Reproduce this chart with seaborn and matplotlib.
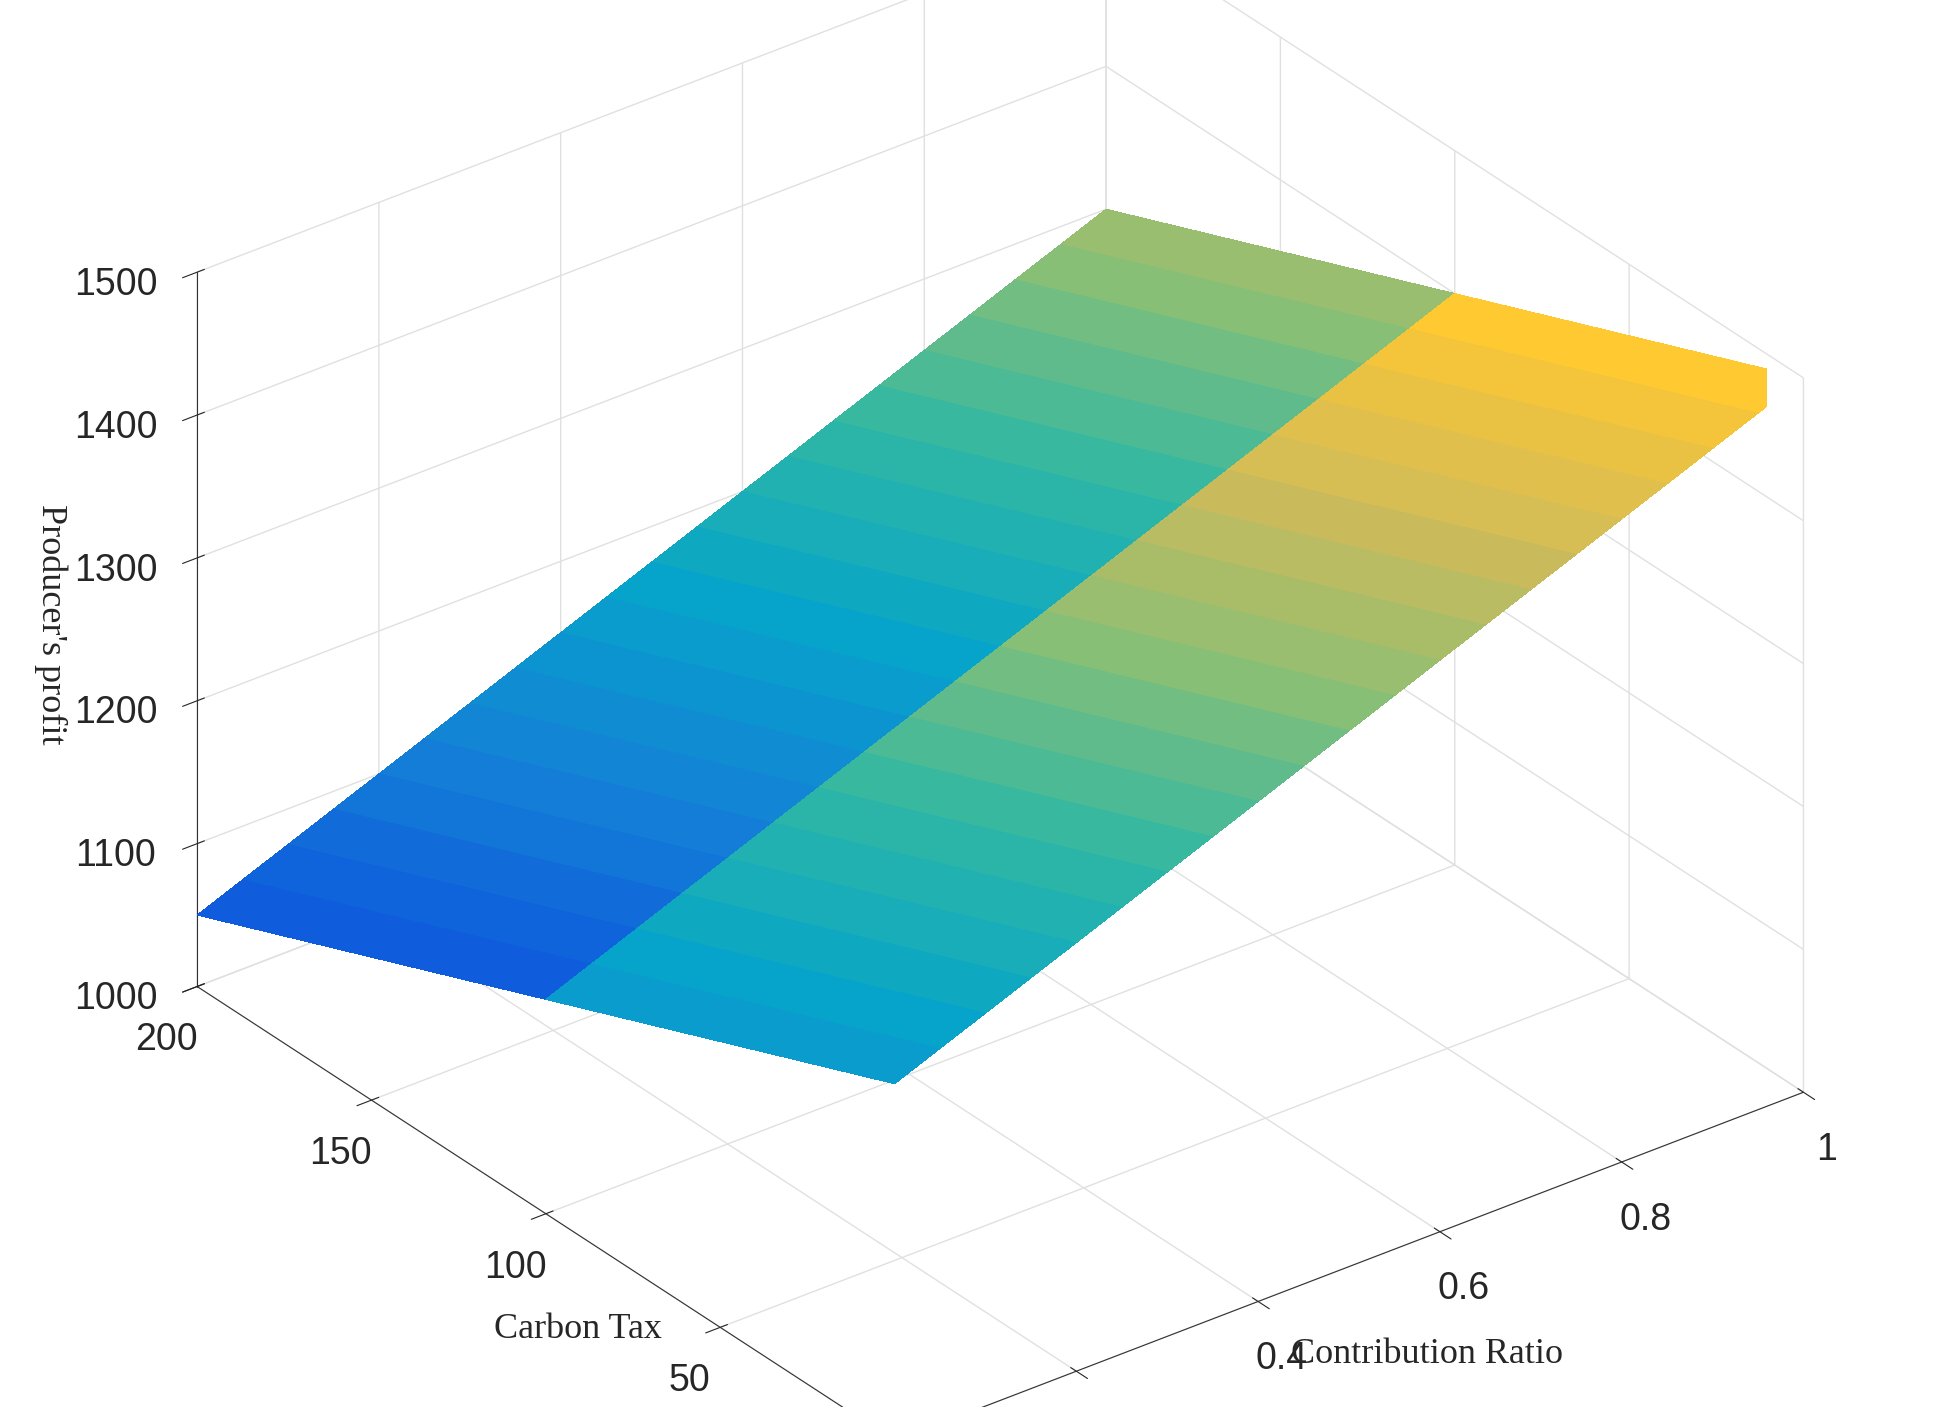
import numpy as np
import seaborn as sns
import matplotlib.pyplot as plt
from matplotlib.colors import LinearSegmentedColormap

sns.set_style('white')
plt.rcParams['font.family'] = ['Liberation Sans', 'DejaVu Sans']

# data
contribution_ratio = [0.0, 0.05, 0.1, 0.15, 0.2, 0.25, 0.3, 0.35, 0.4, 0.45, 0.5,
                      0.55, 0.6, 0.65, 0.7, 0.75, 0.8, 0.85, 0.9, 0.95, 1.0]
carbon_tax = [0, 100, 200]
profit_tax_0 = [1250, 1262.5, 1275, 1287.5, 1300, 1312.5, 1325, 1337.5, 1350, 1362.5, 1375,
                1387.5, 1400, 1412.5, 1425, 1437.5, 1450, 1462.5, 1475, 1487.5, 1500]
profit_tax_100 = [1150, 1162.5, 1175, 1187.5, 1200, 1212.5, 1225, 1237.5, 1250, 1262.5, 1275,
                  1287.5, 1300, 1312.5, 1325, 1337.5, 1350, 1362.5, 1375, 1387.5, 1400]
profit_tax_200 = [1050, 1062.5, 1075, 1087.5, 1100, 1112.5, 1125, 1137.5, 1150, 1162.5, 1175,
                  1187.5, 1200, 1212.5, 1225, 1237.5, 1250, 1262.5, 1275, 1287.5, 1300]

parula = LinearSegmentedColormap.from_list('parula', [
    '#352A87', '#0F5CDD', '#1481D6', '#06A4CA', '#2EB7A4',
    '#87BF77', '#D1BB59', '#FEC832', '#F9FB0E'])

X, Y = np.meshgrid(contribution_ratio, carbon_tax)
Z = np.array([profit_tax_0, profit_tax_100, profit_tax_200], dtype=float)

fig = plt.figure(figsize=(19.58, 14.07), dpi=100)
ax = fig.add_axes([-0.02, -0.06, 1.04, 1.12], projection='3d')
ax.set_proj_type('ortho')
ax.plot_surface(X, Y, Z, cmap=parula, vmin=Z.min(), vmax=Z.max(),
                linewidth=0, antialiased=False, shade=False,
                rcount=3, ccount=21)

ax.set_xlim(0, 1)
ax.set_ylim(0, 200)
ax.set_zlim(1000, 1500)
ax.set_xticks([0, 0.2, 0.4, 0.6, 0.8, 1])
ax.set_xticklabels(['0', '0.2', '0.4', '0.6', '0.8', '1'])
ax.set_yticks([0, 50, 100, 150, 200])
ax.set_zticks([1000, 1100, 1200, 1300, 1400, 1500])
ax.tick_params(labelsize=27)
ax.tick_params(axis='z', pad=22)
ax.tick_params(axis='x', pad=12)
ax.tick_params(axis='y', pad=12)
ax.view_init(elev=30, azim=-127.5)
ax.set_box_aspect((1, 1, 0.72), zoom=1.12)

for axis in (ax.xaxis, ax.yaxis, ax.zaxis):
    axis.set_pane_color((1, 1, 1, 0))
    axis._axinfo['grid']['color'] = (0.88, 0.88, 0.88, 1)
    axis._axinfo['grid']['linewidth'] = 1.0
    axis.line.set_color('#333333')

serif = dict(family='Liberation Serif', size=26)
fig.text(0.295, 0.055, 'Carbon Tax', ha='center', va='center', **serif)
fig.text(0.729, 0.037, 'Contribution Ratio', ha='center', va='center', **serif)
fig.text(0.026, 0.556, "Producer's profit", ha='center', va='center',
         rotation=-90, **serif)

plt.savefig('out.png', dpi=100)
